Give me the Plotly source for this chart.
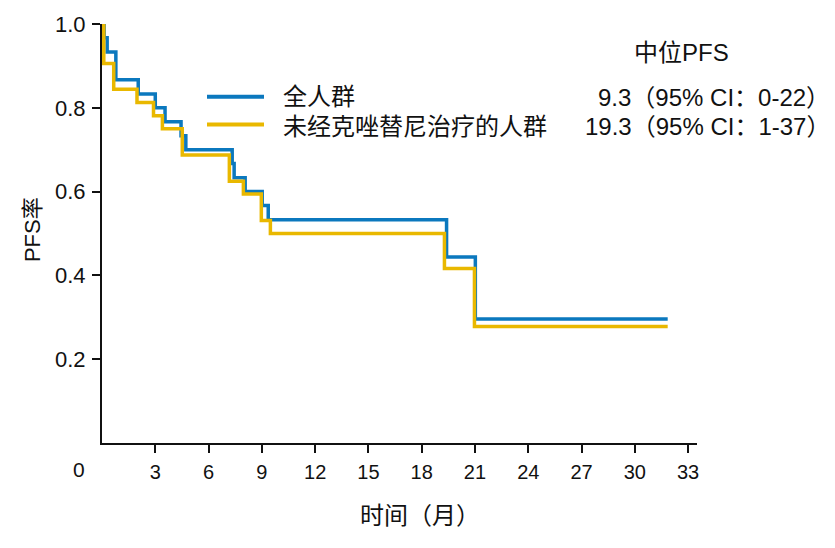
import plotly.graph_objects as go

# ---- data ----
all_time = [0, 0.12, 0.29, 0.78, 2.04, 3.0, 3.55, 4.45, 4.72, 7.33, 7.44, 8.06, 9.02, 9.36, 19.4, 21.02, 31.85]
all_surv = [1.0, 0.967, 0.933, 0.867, 0.833, 0.800, 0.767, 0.733, 0.700, 0.667, 0.633, 0.600, 0.567, 0.533, 0.444, 0.296, 0.296]

naive_time = [0, 0.1, 0.66, 1.97, 2.9, 3.4, 4.52, 7.17, 7.96, 8.97, 9.48, 19.28, 20.97, 31.85]
naive_surv = [1.0, 0.906, 0.844, 0.8125, 0.781, 0.750, 0.6875, 0.625, 0.594, 0.531, 0.500, 0.4167, 0.278, 0.278]

series_names = ["全人群", "未经克唑替尼治疗的人群"]
median_labels = ["9.3（95% CI：0-22）", "19.3（95% CI：1-37）"]
median_title = "中位PFS"
x_ticks = [3, 6, 9, 12, 15, 18, 21, 24, 27, 30, 33]
y_ticks = [0.2, 0.4, 0.6, 0.8, 1.0]
x_title = "时间（月）"
y_title = "PFS率"

BLUE = "#0B78BE"
YELLOW = "#E9B800"
FONT = "Liberation Sans, Arial, Noto Sans CJK SC, sans-serif"

W, H = 835, 548
L, R, T, B = 102, 138, 18, 105
PW, PH = W - L - R, H - T - B


def px(x):
    return (x - L) / PW


def py(y):
    return (H - B - y) / PH


fig = go.Figure()
fig.add_trace(go.Scatter(x=all_time, y=all_surv, mode="lines", line=dict(color=BLUE, width=3.5, shape="hv"),
                         name=series_names[0], showlegend=False))
fig.add_trace(go.Scatter(x=naive_time, y=naive_surv, mode="lines", line=dict(color=YELLOW, width=3.5, shape="hv"),
                         name=series_names[1], showlegend=False))

annotations = []
# legend-like texts
for name, yy in zip(series_names, [92, 121.7]):
    annotations.append(dict(x=px(281), y=py(yy), xref="paper", yref="paper", text=name, showarrow=False,
                            xanchor="left", yanchor="middle", font=dict(size=24, family=FONT, color="#111")))
for lab, yy in zip(median_labels, [93, 121.7]):
    annotations.append(dict(x=px(832), y=py(yy), xref="paper", yref="paper", text=lab, showarrow=False,
                            xanchor="right", yanchor="middle", font=dict(size=24, family=FONT, color="#111")))
annotations.append(dict(x=px(681), y=py(47), xref="paper", yref="paper", text=median_title, showarrow=False,
                        xanchor="center", yanchor="middle", font=dict(size=24, family=FONT, color="#111")))
# origin label
annotations.append(dict(x=px(79), y=py(470), xref="paper", yref="paper", text="0", showarrow=False,
                        xanchor="center", yanchor="middle", font=dict(size=21, family=FONT, color="#111")))
# axis titles
annotations.append(dict(x=px(420), y=py(517), xref="paper", yref="paper", text=x_title, showarrow=False,
                        xanchor="center", yanchor="middle", font=dict(size=24, family=FONT, color="#111")))
annotations.append(dict(x=px(32), y=py(227), xref="paper", yref="paper", text=y_title, showarrow=False,
                        textangle=-90, xanchor="center", yanchor="middle",
                        font=dict(size=22, family=FONT, color="#111")))

shapes = []
for col, yy in zip([BLUE, YELLOW], [91.7, 120]):
    shapes.append(dict(type="line", xref="paper", yref="paper", x0=px(207), x1=px(264), y0=py(yy), y1=py(yy),
                       line=dict(color=col, width=4)))

fig.update_layout(
    width=W, height=H,
    margin=dict(l=L, r=R, t=T, b=B, pad=0),
    paper_bgcolor="white", plot_bgcolor="white",
    showlegend=False,
    annotations=annotations,
    shapes=shapes,
    xaxis=dict(range=[0, 33.5], tickvals=x_ticks, ticktext=[str(v) for v in x_ticks],
               showgrid=False, zeroline=False, showline=True, linecolor="#111", linewidth=2,
               ticks="outside", ticklen=8, tickwidth=1.5, tickcolor="#111",
               tickfont=dict(size=20, family=FONT, color="#111"), ticklabelstandoff=2),
    yaxis=dict(range=[0, 1], tickvals=y_ticks, ticktext=["%.1f" % v for v in y_ticks],
               showgrid=False, zeroline=False, showline=True, linecolor="#111", linewidth=2,
               ticks="outside", ticklen=8, tickwidth=1.5, tickcolor="#111",
               tickfont=dict(size=22, family=FONT, color="#111"), ticklabelstandoff=2),
)

fig.write_html("out.html")
